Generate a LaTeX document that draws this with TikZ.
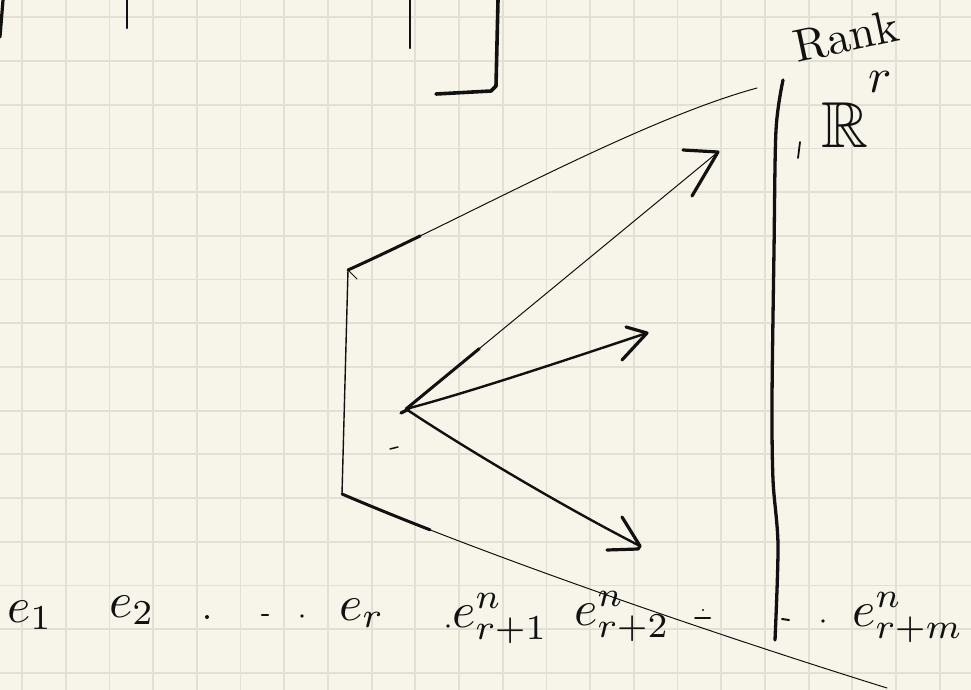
\documentclass[tikz,border=0pt]{standalone}
\usepackage{graphicx}
\usepackage{amssymb}
\definecolor{paper}{HTML}{F7F5EA}
\definecolor{gridc}{HTML}{E2E0D4}
\definecolor{inkc}{HTML}{111111}
\tikzset{
  gridline/.style={draw=gridc, line width=1.8pt},
  ink/.style={draw=inkc, line cap=round, line join=round},
  thickink/.style={ink, line width=3.2pt},
  midink/.style={ink, line width=2.4pt},
  thinink/.style={ink, line width=1pt},
  headstart/.style={ink, line width=3pt, dash pattern=on #1 off 3000pt},
  label/.style={inner sep=0pt, text=inkc, anchor=base west, scale=5},
  dotmark/.style={fill=inkc}
}
\begin{document}
\begin{tikzpicture}[x=1pt,y=-1pt]
\fill[paper] (0,0) rectangle (971,690);
\useasboundingbox (0,0) rectangle (971,690);
% grid
\foreach \i in {0,...,21} \draw[gridline] ({22+43.7*\i},0) -- ({22+43.7*\i},690);
\foreach \j in {0,...,15} \draw[gridline] (0,{17.3+43.7*\j}) -- (971,{17.3+43.7*\j});

% strokes at the top
\draw[thickink] (3,0) -- (0,37);
\draw[ink, line width=2.6pt] (127,0) -- (127,28);
\draw[ink, line width=2.2pt] (410,0) -- (410,48);
\draw[ink, line width=3.6pt] (498,0) -- (496,86) -- (491,91) -- (436,94);

% key points
\coordinate (A) at (348,270);
\coordinate (B) at (342,494);
\coordinate (Tend) at (757,88);
\coordinate (Bend) at (887,688);
\coordinate (O) at (406,409);
\coordinate (T1) at (718,152);
\coordinate (T2) at (647,333);
\coordinate (T3) at (640,546);

% region outline
\draw[ink, line width=1.4pt] (A) -- (B);
\draw[thinink] (A) -- (357,279);
\draw[thinink] (A) .. controls (470,215) and (640,120) .. (Tend);
\draw[headstart=80pt] (A) .. controls (470,215) and (640,120) .. (Tend);
\draw[thinink] (B) .. controls (482,554) and (707,632) .. (Bend);
\draw[headstart=95pt] (B) .. controls (482,554) and (707,632) .. (Bend);

% arrows
\draw[thinink] (O) -- (T1);
\draw[headstart=95pt] (O) -- (T1);
\draw[thickink] (683,150) -- (T1) -- (692,196);

\draw[midink] (O) .. controls (470,392) and (560,362) .. (T2);
\draw[thickink] (626,327) -- (T2) -- (622,360);

\draw[midink] (O) .. controls (460,445) and (560,505) .. (T3);
\draw[thickink] (622,517) -- (T3) -- (638,549) -- (607,550);

\draw[thickink] (401,413) -- (409,409);
\draw[ink, line width=1.5pt] (390,449) -- (398,447);

% right boundary
\draw[ink, line width=3.3pt] plot[smooth] coordinates {(783,80) (776,130) (774,250) (772,400) (773,480) (778,545) (775,640)};
\draw[ink, line width=1.8pt] (800,142) -- (798,158);

% texts
\node[label, anchor=center, rotate=12, scale=0.92] (rank) at (846,36) {Rank};
\node[label, scale=1.3] (Rr) at (820,148) {$\mathbb{R}$\raisebox{0.85em}{\scalebox{0.75}{$r$}}};

\node[label] (e1) at (6,622) {$e_1$};
\node[label] (e2) at (108,617) {$e_2$};
\node[label] (er) at (338,620) {$e_r$};
\node[label] (er1) at (451,627) {$e^n_{r+1}$};
\node[label] (er2) at (573,625) {$e^n_{r+2}$};
\node[label] (erm) at (851,626) {$e^n_{r+m}$};

% dots and dashes
\fill[dotmark] (207,617) circle (2);
\draw[ink, line width=2.4pt] (262,615) -- (268,615);
\fill[dotmark] (302,616) circle (1.8);
\fill[dotmark] (448,626) circle (1.8);
\draw[ink, line width=2pt] (695,618) -- (710,618);
\fill[dotmark] (703,610) circle (1.2);
\draw[ink, line width=2pt] (782,619) -- (789,620);
\fill[dotmark] (823,621) circle (1.8);
\end{tikzpicture}
\end{document}
